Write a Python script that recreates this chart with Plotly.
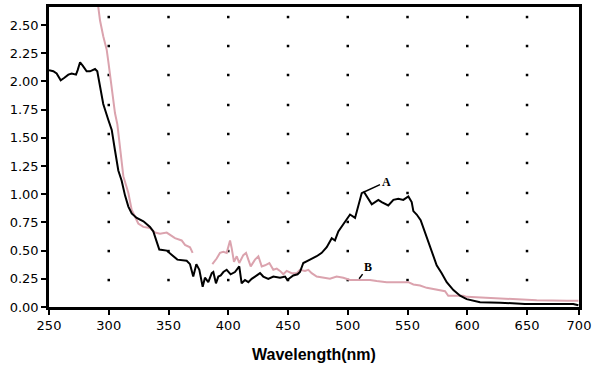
import plotly.graph_objects as go

# ---- data ----
A_NM = [250, 253.6, 256.4, 259.8, 262.6, 266.2, 269, 272.6, 274, 276, 278.2, 281.5, 284.3, 288.5, 290.4,
        292.7, 295.4, 299.6, 302.5, 305.2, 308, 310.8, 313.6, 316.4, 319.2, 323.4, 329, 334.5, 337.3, 340.1,
        342.3, 348.5, 354, 357.4, 365.2, 368, 370.7, 373.3, 375.8, 378.6, 380.5, 383.3, 386.2, 387.5, 389.7,
        391.7, 393.7, 395.9, 398.7, 402, 405.6, 409.2, 411.2, 414, 416.8, 419.6, 422.4, 426.6, 429.3, 433.5,
        437.7, 443.3, 447.5, 449.4, 454.4, 458, 460, 462.8, 468.4, 474, 478.2, 482.4, 486.6, 489.3, 492.1,
        496.3, 501.9, 506.1, 508.9, 511.7, 513.6, 515.9, 520.1, 525.6, 528.4, 533.9, 538.2, 542.3, 546.5,
        550.7, 553.5, 554.9, 557.7, 561, 563.3, 566.1, 570.3, 574.4, 578.6, 582.8, 588.4, 594, 599.5, 605.1,
        610.7, 627.4, 646.9, 648.3, 688.7, 693]
A_ABS = [2.10, 2.09, 2.07, 2.01, 2.03, 2.06, 2.07, 2.06, 2.10, 2.17, 2.14, 2.09, 2.09, 2.11, 2.09,
         1.95, 1.80, 1.66, 1.57, 1.39, 1.21, 1.12, 0.99, 0.89, 0.83, 0.79, 0.76, 0.71, 0.67, 0.58,
         0.51, 0.50, 0.45, 0.42, 0.41, 0.38, 0.27, 0.38, 0.33, 0.18, 0.26, 0.22, 0.30, 0.31, 0.21,
         0.27, 0.28, 0.31, 0.33, 0.29, 0.31, 0.36, 0.21, 0.24, 0.22, 0.25, 0.27, 0.30, 0.27, 0.25,
         0.27, 0.26, 0.27, 0.24, 0.28, 0.29, 0.31, 0.39, 0.42, 0.45, 0.48, 0.53, 0.61, 0.59, 0.67,
         0.73, 0.82, 0.79, 0.89, 1.01, 1.02, 0.98, 0.91, 0.95, 0.93, 0.90, 0.95, 0.96, 0.95,
         0.98, 0.93, 0.85, 0.82, 0.77, 0.70, 0.61, 0.49, 0.37, 0.30, 0.22, 0.15, 0.10, 0.07, 0.056,
         0.042, 0.038, 0.033, 0.027, 0.027, 0.015]

B_NM = [290.5, 292.7, 295.4, 298.3, 299.6, 302.5, 305.2, 307.2, 309.4, 312.2, 316.4, 319.2, 322, 324.7,
        328.9, 334.5, 338.7, 342.9, 348.5, 351.3, 355.4, 361, 363.8, 368, 370.2, 378,
        386.7, 390.3, 393.1, 395.9, 398.7, 400, 401.5, 402.9, 404.8, 407.1, 409.2, 412.6, 414.9, 416.8,
        418.8, 422.4, 425.2, 428, 430.8, 434.4, 437.7, 440.6, 443.3, 446.1, 448.9, 453.1, 457.3, 460,
        464.2, 467, 469.8, 474, 479.5, 485.1, 490.7, 496.3, 501.9, 510.3, 518.6, 524.2, 532.6, 546.5,
        550.7, 554.9, 560.5, 566.1, 577.2, 581.4, 584.1, 596.7, 599.5, 610.7, 630.2, 658.1, 683.2, 693]
B_ABS = [2.72, 2.54, 2.40, 2.28, 2.18, 1.93, 1.72, 1.62, 1.42, 1.16, 1.01, 0.86, 0.80, 0.74,
         0.71, 0.70, 0.66, 0.65, 0.66, 0.64, 0.61, 0.59, 0.55, 0.53, 0.48, None,
         0.38, 0.43, 0.48, 0.49, 0.48, 0.53, 0.59, 0.52, 0.40, 0.45, 0.39, 0.46, 0.48, 0.42,
         0.36, 0.42, 0.45, 0.36, 0.37, 0.39, 0.33, 0.34, 0.32, 0.29, 0.32, 0.30, 0.30, 0.33,
         0.32, 0.33, 0.30, 0.27, 0.26, 0.25, 0.27, 0.26, 0.24, 0.24, 0.24, 0.23, 0.22, 0.22,
         0.22, 0.20, 0.19, 0.17, 0.15, 0.14, 0.10, 0.10, 0.09, 0.085, 0.077, 0.06, 0.056, 0.056]

X_TICK_VALS = [250, 300, 350, 400, 450, 500, 550, 600, 650, 693.5]
X_TICK_LABELS = ["250", "300", "350", "400", "450", "500", "550", "600", "650", "700"]
Y_TICK_VALS = [0, 0.25, 0.5, 0.75, 1.0, 1.25, 1.5, 1.75, 2.0, 2.25, 2.5]

GRID_X = [300, 350, 400, 450, 500, 550, 600, 650]
GRID_Y = [0.239, 0.496, 0.754, 1.011, 1.277, 1.534, 1.791, 2.057, 2.314, 2.571]

gx = [x for x in GRID_X for _ in GRID_Y]
gy = [y for _ in GRID_X for y in GRID_Y]

fig = go.Figure()
fig.add_trace(go.Scatter(x=gx, y=gy, mode="markers",
                         marker=dict(symbol="square", size=2.5, color="black", line=dict(width=0)),
                         hoverinfo="skip", showlegend=False))
fig.add_trace(go.Scatter(x=B_NM, y=B_ABS, mode="lines", connectgaps=False,
                         line=dict(color="#DBA3AE", width=2), showlegend=False))
fig.add_trace(go.Scatter(x=A_NM, y=A_ABS, mode="lines",
                         line=dict(color="black", width=2), showlegend=False))

fig.add_annotation(x=513.6, y=1.02, text="<b>A</b>", showarrow=True, arrowhead=0, arrowwidth=1.5,
                   arrowcolor="black", ax=22, ay=-10, standoff=0,
                   font=dict(family="Liberation Serif", size=12, color="black"))
fig.add_annotation(x=509.5, y=0.25, text="<b>B</b>", showarrow=True, arrowhead=0, arrowwidth=1.5,
                   arrowcolor="black", ax=9, ay=-12, standoff=0,
                   font=dict(family="Liberation Serif", size=12, color="black"))

axis_common = dict(showline=True, mirror=True, linecolor="black", linewidth=2.5,
                   ticks="outside", ticklen=5, tickwidth=1.5, tickcolor="black",
                   showgrid=False, zeroline=False, automargin=False,
                   tickfont=dict(family="DejaVu Sans", size=13, color="black"))

fig.update_xaxes(range=[250, 693.5], tickvals=X_TICK_VALS, ticktext=X_TICK_LABELS,
                 title=dict(text="<b>Wavelength(nm)</b>",
                            font=dict(family="Liberation Sans", size=16, color="black"), standoff=17),
                 **axis_common)
fig.update_yaxes(range=[0, 2.66], tickvals=Y_TICK_VALS, tickformat=".2f", **axis_common)

fig.update_layout(width=600, height=369, margin=dict(l=49, r=21, t=7, b=62),
                  plot_bgcolor="white", paper_bgcolor="white", showlegend=False)

fig.write_html("out.html", config={"displayModeBar": False},
               post_script="document.body.style.margin='0';document.body.style.overflow='hidden';")
